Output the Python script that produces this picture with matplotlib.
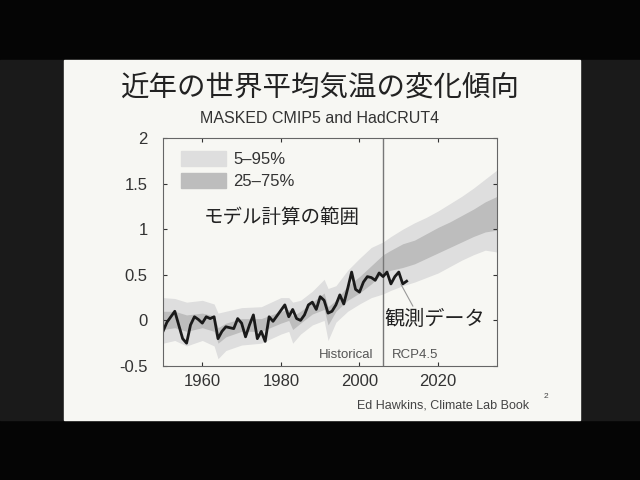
import matplotlib
matplotlib.use("Agg")
import matplotlib.pyplot as plt
from matplotlib.patches import Rectangle, Patch

plt.rcParams['font.family'] = ['Liberation Sans', 'Noto Sans CJK JP', 'DejaVu Sans']
plt.rcParams['axes.unicode_minus'] = False

# observed (HadCRUT4, masked) annual anomaly
obs_years = list(range(1950, 2013))
obs_vals = [-0.12, -0.02, 0.04, 0.10, -0.05, -0.20, -0.25, -0.05, 0.04, 0.01,
            -0.03, 0.04, 0.02, 0.04, -0.20, -0.12, -0.07, -0.08, -0.09, 0.02,
            -0.03, -0.18, -0.05, 0.06, -0.20, -0.12, -0.23, 0.04, -0.01, 0.05,
            0.11, 0.17, 0.04, 0.12, 0.02, 0.00, 0.06, 0.17, 0.20, 0.12,
            0.26, 0.22, 0.08, 0.10, 0.17, 0.28, 0.18, 0.35, 0.53, 0.34,
            0.31, 0.42, 0.48, 0.47, 0.44, 0.52, 0.48, 0.53, 0.40, 0.48,
            0.53, 0.40, 0.43]

# CMIP5 model spread
band_years = [1950, 1953, 1956, 1960, 1963, 1964, 1966, 1970, 1975, 1980, 1982,
              1983, 1985, 1988, 1991, 1992, 1994, 1997, 2000, 2003, 2006, 2008,
              2011, 2014, 2017, 2020, 2023, 2026, 2029, 2032, 2035]
p05 = [-0.25, -0.22, -0.28, -0.22, -0.28, -0.42, -0.33, -0.27, -0.25, -0.15, -0.12,
       -0.25, -0.15, -0.05, 0.00, -0.22, -0.02, 0.10, 0.18, 0.25, 0.29, 0.33,
       0.38, 0.42, 0.47, 0.52, 0.59, 0.66, 0.72, 0.77, 0.75]
p95 = [0.25, 0.24, 0.20, 0.22, 0.18, 0.08, 0.10, 0.14, 0.15, 0.25, 0.25,
       0.20, 0.22, 0.32, 0.45, 0.35, 0.38, 0.55, 0.68, 0.80, 0.86, 0.92,
       1.00, 1.07, 1.13, 1.20, 1.28, 1.36, 1.45, 1.55, 1.65]
p25 = [-0.10, -0.08, -0.12, -0.08, -0.12, -0.25, -0.18, -0.12, -0.12, -0.03, 0.00,
       -0.10, -0.03, 0.07, 0.12, -0.05, 0.10, 0.22, 0.30, 0.40, 0.52, 0.55,
       0.58, 0.62, 0.68, 0.74, 0.80, 0.86, 0.92, 0.97, 0.99]
p75 = [0.10, 0.10, 0.06, 0.08, 0.05, -0.08, -0.03, 0.02, 0.02, 0.10, 0.12,
       0.05, 0.10, 0.20, 0.30, 0.15, 0.22, 0.38, 0.48, 0.60, 0.72, 0.77,
       0.84, 0.88, 0.95, 1.02, 1.08, 1.15, 1.22, 1.30, 1.36]

yticks = [-0.5, 0, 0.5, 1, 1.5, 2]
ytick_labels = ['-0.5', '0', '0.5', '1', '1.5', '2']
xticks = [1960, 1980, 2000, 2020]

slide_bg = '#f7f7f3'
light = '#dedede'
dark = '#bdbdbd'
cjk = ['Noto Sans CJK JP', 'DejaVu Sans']

fig = plt.figure(figsize=(6.4, 4.8), dpi=100, facecolor='#050505')
fig.patches.append(Rectangle((0, 0.125), 1, 0.75, transform=fig.transFigure,
                             color='#1a1a1a', zorder=-2))
fig.patches.append(Rectangle((0.1, 0.125), 0.806, 0.75, transform=fig.transFigure,
                             color=slide_bg, zorder=-1))

fig.text(0.5, 0.817, '近年の世界平均気温の変化傾向', ha='center', va='center',
         fontsize=20.5, color='#222', family=cjk)
fig.text(0.5, 0.754, 'MASKED CMIP5 and HadCRUT4', ha='center', va='center',
         fontsize=11.5, color='#333')

ax = fig.add_axes([0.2547, 0.2375, 0.5219, 0.475])
ax.set_facecolor(slide_bg)

ax.fill_between(band_years, p05, p95, color=light, lw=0)
ax.fill_between(band_years, p25, p75, color=dark, lw=0)
ax.axvline(2006, color='#777', lw=1)
ax.plot(obs_years, obs_vals, color='#1a1a1a', lw=2)

ax.set_xlim(1950, 2035)
ax.set_ylim(-0.5, 2)
ax.set_yticks(yticks)
ax.set_yticklabels(ytick_labels)
ax.set_xticks(xticks)
ax.tick_params(direction='in', top=True, right=True, labelsize=12,
               colors='#333', length=3)
ax.tick_params(axis='y', pad=11)
ax.tick_params(axis='x', pad=6)
for s in ax.spines.values():
    s.set_color('#666')

handles = [Patch(color=light, label='5–95%'), Patch(color=dark, label='25–75%')]
ax.legend(handles=handles, loc='upper left', bbox_to_anchor=(0.01, 1.01),
          frameon=False, fontsize=12, handlelength=2.7, handleheight=1.0,
          labelspacing=0.35, handletextpad=0.4, labelcolor='#333')

ax.text(1960.3, 1.13, 'モデル計算の範囲', fontsize=14, color='#222',
        va='center', family=cjk)
ax.annotate('観測データ', xy=(2010.5, 0.40), xytext=(2006.3, 0.01),
            fontsize=14.5, color='#222', va='center', family=cjk,
            arrowprops=dict(arrowstyle='-', color='#999', lw=0.8,
                            relpos=(0.3, 1.0), shrinkA=0, shrinkB=0))
ax.text(2003.5, -0.38, 'Historical', fontsize=9.5, color='#555', ha='right', va='center')
ax.text(2008.3, -0.38, 'RCP4.5', fontsize=9.5, color='#555', ha='left', va='center')

fig.text(0.692, 0.156, 'Ed Hawkins, Climate Lab Book', ha='center', va='center',
         fontsize=9, color='#444')
fig.text(0.853, 0.173, '2', ha='center', va='center', fontsize=6, color='#444')

fig.savefig('out.png', dpi=100, facecolor=fig.get_facecolor())
